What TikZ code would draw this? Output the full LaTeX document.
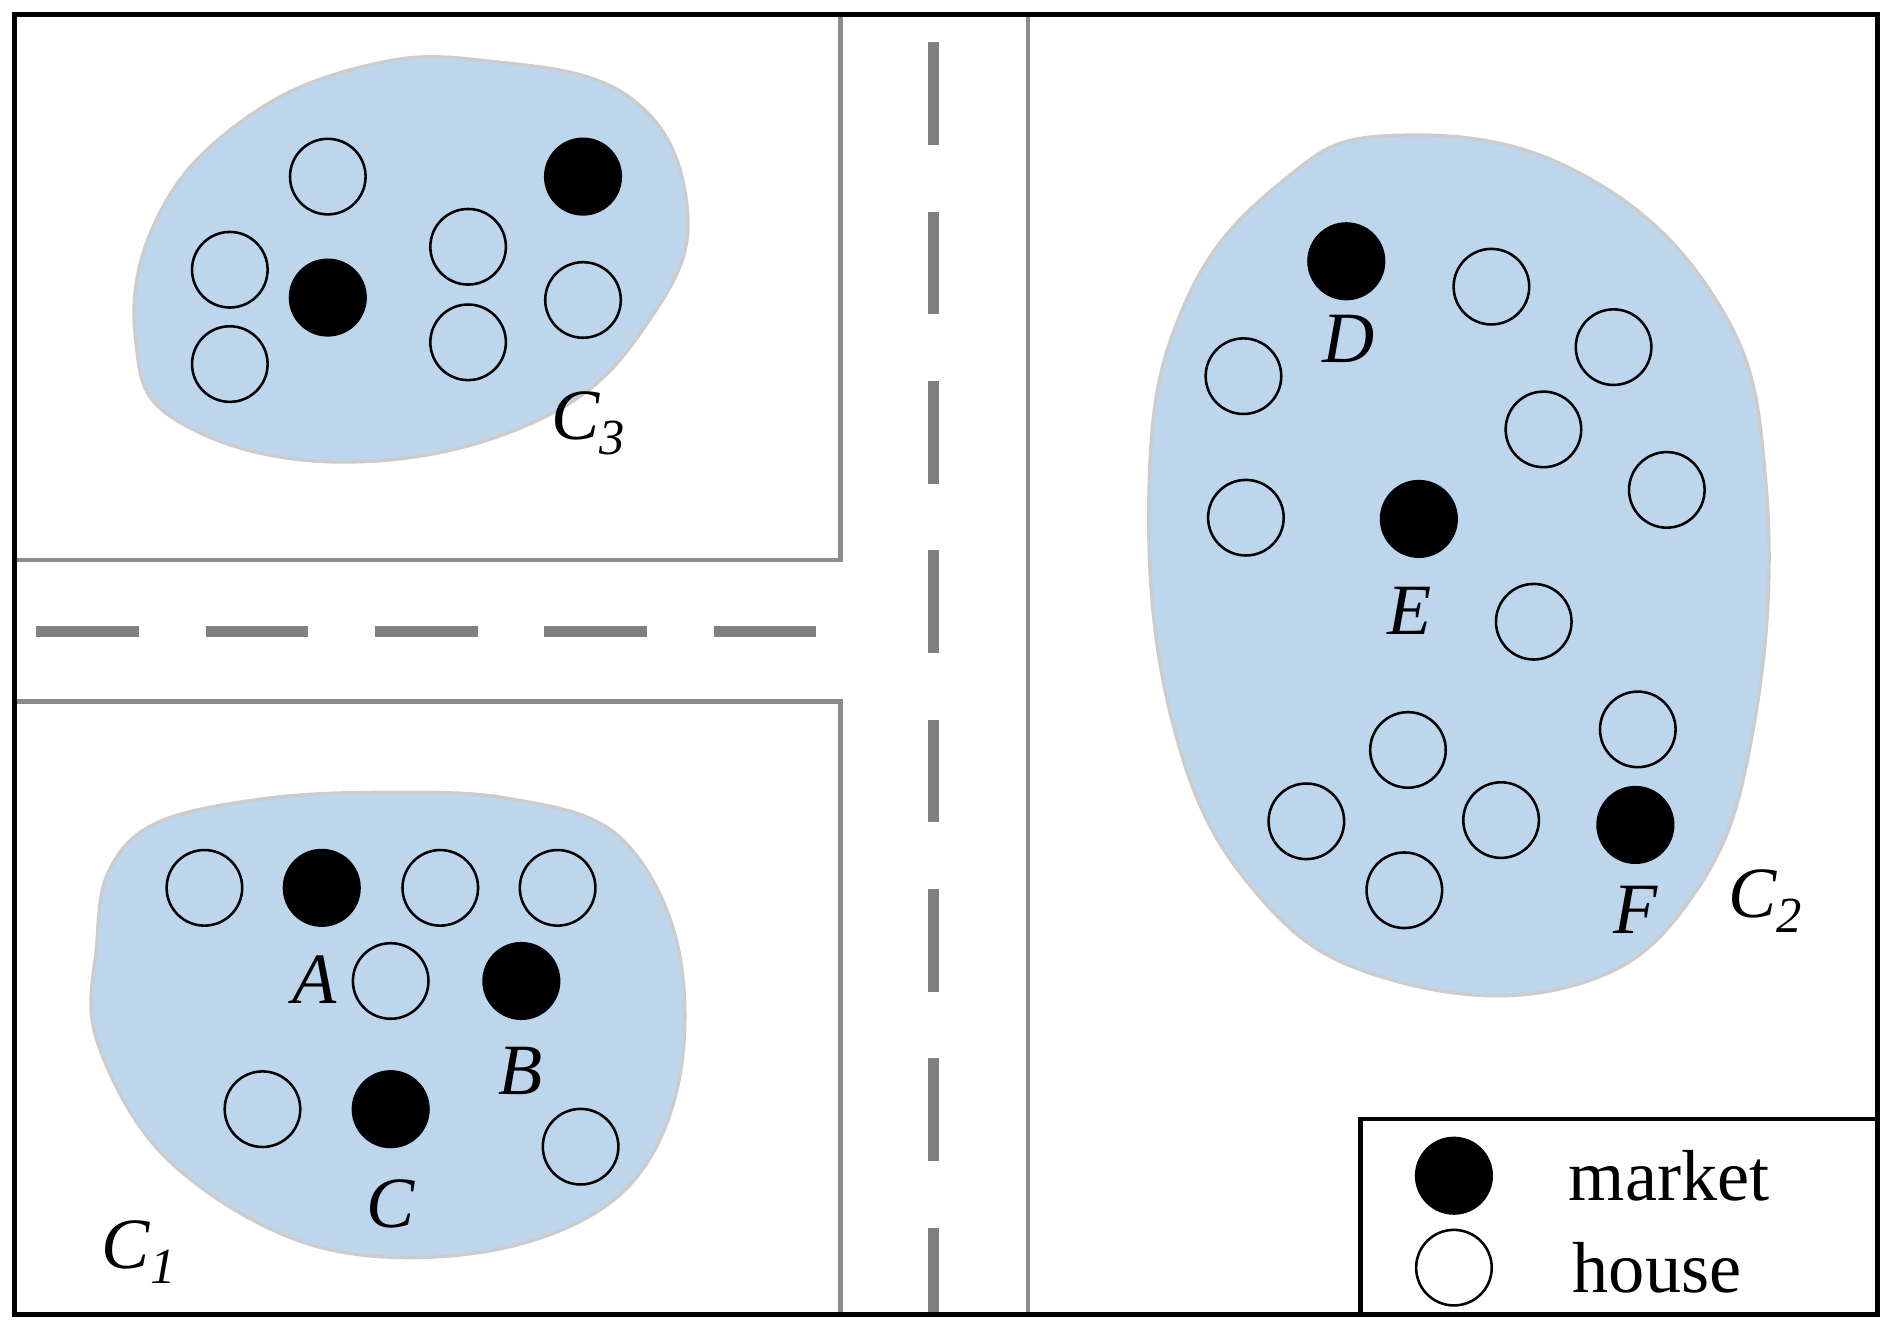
\documentclass[tikz,border=0pt]{standalone}
\usepackage{fontspec}
\setmainfont{Liberation Serif}
\tikzset{
  house/.style={shape=circle, draw, line width=1.2pt, minimum size=1.25cm, inner sep=0pt},
  market/.style={shape=circle, draw, fill=black, line width=1.2pt, minimum size=1.25cm, inner sep=0pt},
  road/.style={draw=gray!90, line width=2.2pt},
  lane/.style={draw=gray, line width=5pt, dash pattern=on 1.7cm off 1.1cm},
  blob/.style={fill=blobblue, draw=gray!40, line width=1.5pt},
  lbl/.style={font=\fontsize{34}{38}\selectfont\itshape},
}
\definecolor{blobblue}{RGB}{189,214,235}
\begin{document}
\begin{tikzpicture}[x=0.02cm, y=-0.02cm]
  \useasboundingbox (0,0) rectangle (1565,1098);
  % blobs
  \path[blob] plot[smooth cycle, tension=0.7] coordinates {(300,55) (400,50) (520,80) (568,170) (540,260) (450,345) (290,382) (150,350) (112,280) (130,180) (200,100)};
  \path[blob] plot[smooth cycle, tension=0.6] coordinates {(90,720) (130,680) (220,660) (320,655) (420,660) (510,690) (560,780) (560,900) (510,990) (400,1035) (260,1030) (140,960) (80,860) (80,780)};
  \path[blob] plot[smooth cycle, tension=0.7] coordinates {(950,400) (980,250) (1060,150) (1150,112) (1300,140) (1420,250) (1460,400) (1450,600) (1400,740) (1300,815) (1150,810) (1040,740) (970,600)};
  % roads
  \coordinate (r1) at (695,12);  \coordinate (r2) at (695,463);  \coordinate (r3) at (12,463);
  \coordinate (r4) at (12,580);  \coordinate (r5) at (695,580);  \coordinate (r6) at (695,1087);
  \coordinate (r7) at (850,12);  \coordinate (r8) at (850,1087);
  \draw[road] (r1) -- (r2) -- (r3);
  \draw[road] (r4) -- (r5) -- (r6);
  \draw[road] (r7) -- (r8);
  \coordinate (m1) at (30,522);  \coordinate (m2) at (700,522);
  \coordinate (m3) at (772,35);  \coordinate (m4) at (772,1085);
  \draw[lane] (m1) -- (m2);
  \draw[lane] (m3) -- (m4);
  % C3
  \foreach \x/\y [count=\i] in {271/146, 190/223, 190/301, 387/204, 387/283, 482/248}
    \node (h3x\i) at (\x,\y) [house] {};
  \node (m3x1) at (482,146) [market] {};
  \node (m3x2) at (271,246) [market] {};
  \node (c3) at (487,350) [lbl] {C\textsubscript{3}};
  % C1
  \foreach \x/\y [count=\i] in {169/734, 364/734, 461/734, 323/811, 217/917, 480/948}
    \node (h1x\i) at (\x,\y) [house] {};
  \node (ma) at (266,734) [market] {};
  \node (mb) at (431,811) [market] {};
  \node (mc) at (323,917) [market] {};
  \node (la) at (260,810) [lbl] {A};
  \node (lb) at (430,885) [lbl] {B};
  \node (lc) at (323,995) [lbl] {C};
  \node (c1) at (115,1035) [lbl] {C\textsubscript{1}};
  % C2
  \foreach \x/\y [count=\i] in {1233/237, 1334/287, 1028/311, 1276/355, 1378/405, 1030/428, 1268/514, 1354/603, 1164/620, 1080/679, 1241/678, 1161/736}
    \node (h2x\i) at (\x,\y) [house] {};
  \node (md) at (1113,216) [market] {};
  \node (me) at (1173,429) [market] {};
  \node (mf) at (1352,682) [market] {};
  \node (ld) at (1115,280) [lbl] {D};
  \node (le) at (1165,505) [lbl] {E};
  \node (lf) at (1352,752) [lbl] {F};
  \node (c2) at (1460,745) [lbl] {C\textsubscript{2}};
  % legend
  \draw[line width=2.2pt] (1125,925) rectangle (1552,1087);
  \node (km) at (1202,972) [market] {};
  \node (kh) at (1202,1048) [house] {};
  \node (tm) at (1380,972) [font=\fontsize{34}{38}\selectfont] {market};
  \node (th) at (1370,1048) [font=\fontsize{34}{38}\selectfont] {house};
  % frame
  \draw[line width=2.2pt] (12,12) rectangle (1552,1087);
\end{tikzpicture}
\end{document}
